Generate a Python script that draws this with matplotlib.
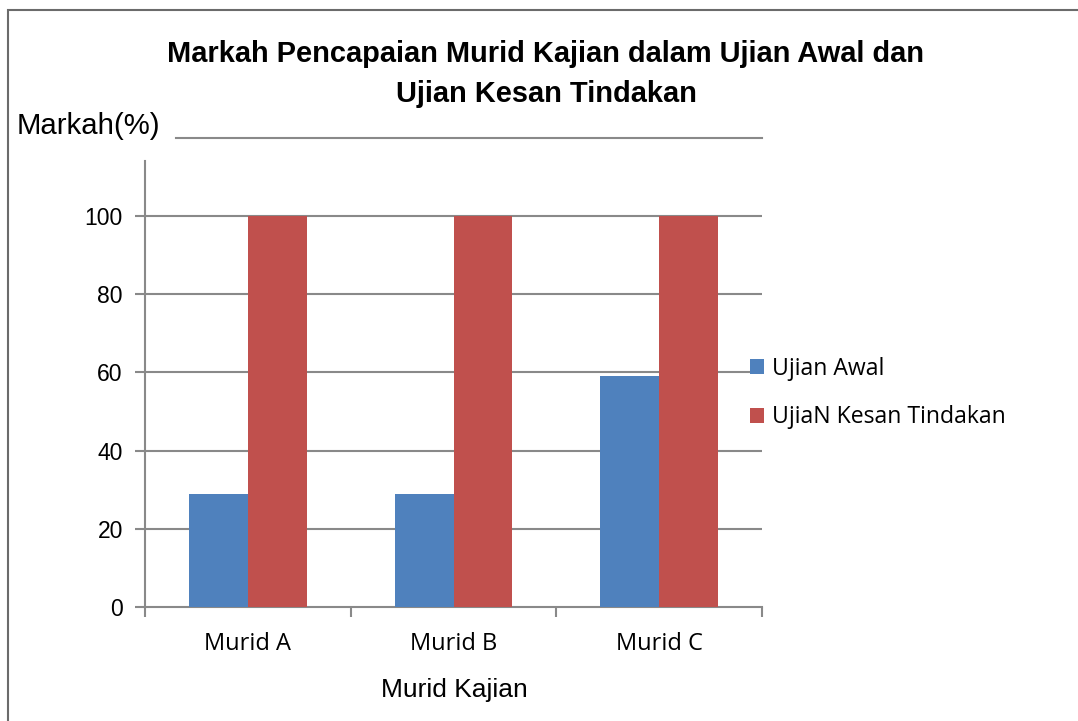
import matplotlib
matplotlib.use("Agg")
import matplotlib.pyplot as plt
import matplotlib.patches as mpatches
import numpy as np

categories = ["Murid A", "Murid B", "Murid C"]
series_names = ["Ujian Awal", "UjiaN Kesan Tindakan"]
ujian_awal = [29, 29, 59]
ujian_kesan = [100, 100, 100]
yticks = [0, 20, 40, 60, 80, 100]

title = "Markah Pencapaian Murid Kajian dalam Ujian Awal dan\nUjian Kesan Tindakan"
ylabel = "Markah(%)"
xlabel = "Murid Kajian"

W, H = 1078, 721
fig = plt.figure(figsize=(W / 100, H / 100), dpi=100)
ax = fig.add_axes([145 / W, 1 - 607 / H, (762 - 145) / W, (607 - 138) / H])

grid_c = "#898989"
blue = "#4F81BD"
red = "#C0504D"

x = np.arange(len(categories))
bw = 0.2857
ax.bar(x - bw / 2, ujian_awal, width=bw, color=blue, zorder=3, label=series_names[0])
ax.bar(x + bw / 2, ujian_kesan, width=bw, color=red, zorder=3, label=series_names[1])

ax.set_xlim(-0.5, len(categories) - 0.5)
ax.set_ylim(0, 120)
ax.set_yticks(yticks)
ax.set_yticklabels([str(v) for v in yticks], fontsize=16.5, family="Liberation Sans")
ax.set_xticks(np.arange(-0.5, len(categories), 1.0))
ax.set_xticklabels([])
ax.set_xticks(x, minor=True)
ax.set_xticklabels(categories, minor=True, fontsize=17, family="Open Sans")
ax.tick_params(axis="x", which="minor", length=0, pad=18)
ax.tick_params(axis="x", which="major", length=7, width=1.5, color=grid_c, direction="out")
ax.tick_params(axis="y", length=7, width=1.5, color=grid_c, direction="out", pad=9)

for v in yticks[1:]:
    ax.axhline(v, color=grid_c, lw=1.5, zorder=1)
ax.axhline(120, xmin=(176 - 145) / (762 - 145), xmax=1, color=grid_c, lw=1.5, zorder=1, clip_on=False)

for s in ["top", "right"]:
    ax.spines[s].set_visible(False)
ax.spines["left"].set_color(grid_c)
ax.spines["left"].set_linewidth(1.5)
ax.spines["left"].set_bounds(0, 114)
ax.spines["bottom"].set_color(grid_c)
ax.spines["bottom"].set_linewidth(1.5)

fig.text(546 / W, 1 - 74 / H, title, ha="center", va="center", fontsize=20.9,
         fontweight="bold", family="Liberation Sans", linespacing=1.55)
fig.text(17 / W, 1 - 126 / H, ylabel, ha="left", va="center", fontsize=21.2, family="Liberation Sans")
fig.text(454 / W, 1 - 690 / H, xlabel, ha="center", va="center", fontsize=19, family="Liberation Sans")

leg = ax.legend(loc="upper left", bbox_to_anchor=(750 / W, 1 - 357 / H), bbox_transform=fig.transFigure,
                frameon=False, prop={"family": "Open Sans", "size": 16.6},
                handlelength=0.62, handleheight=0.62, handletextpad=0.32, labelspacing=1.05,
                borderpad=0, borderaxespad=0)

border = mpatches.Rectangle((8 / W, -0.2), 1.5, 1 - 10 / H + 0.2, transform=fig.transFigure,
                            fill=False, edgecolor="#6b6b6b", lw=1.5, clip_on=False)
fig.patches.append(border)

fig.savefig("out.png", dpi=100)
